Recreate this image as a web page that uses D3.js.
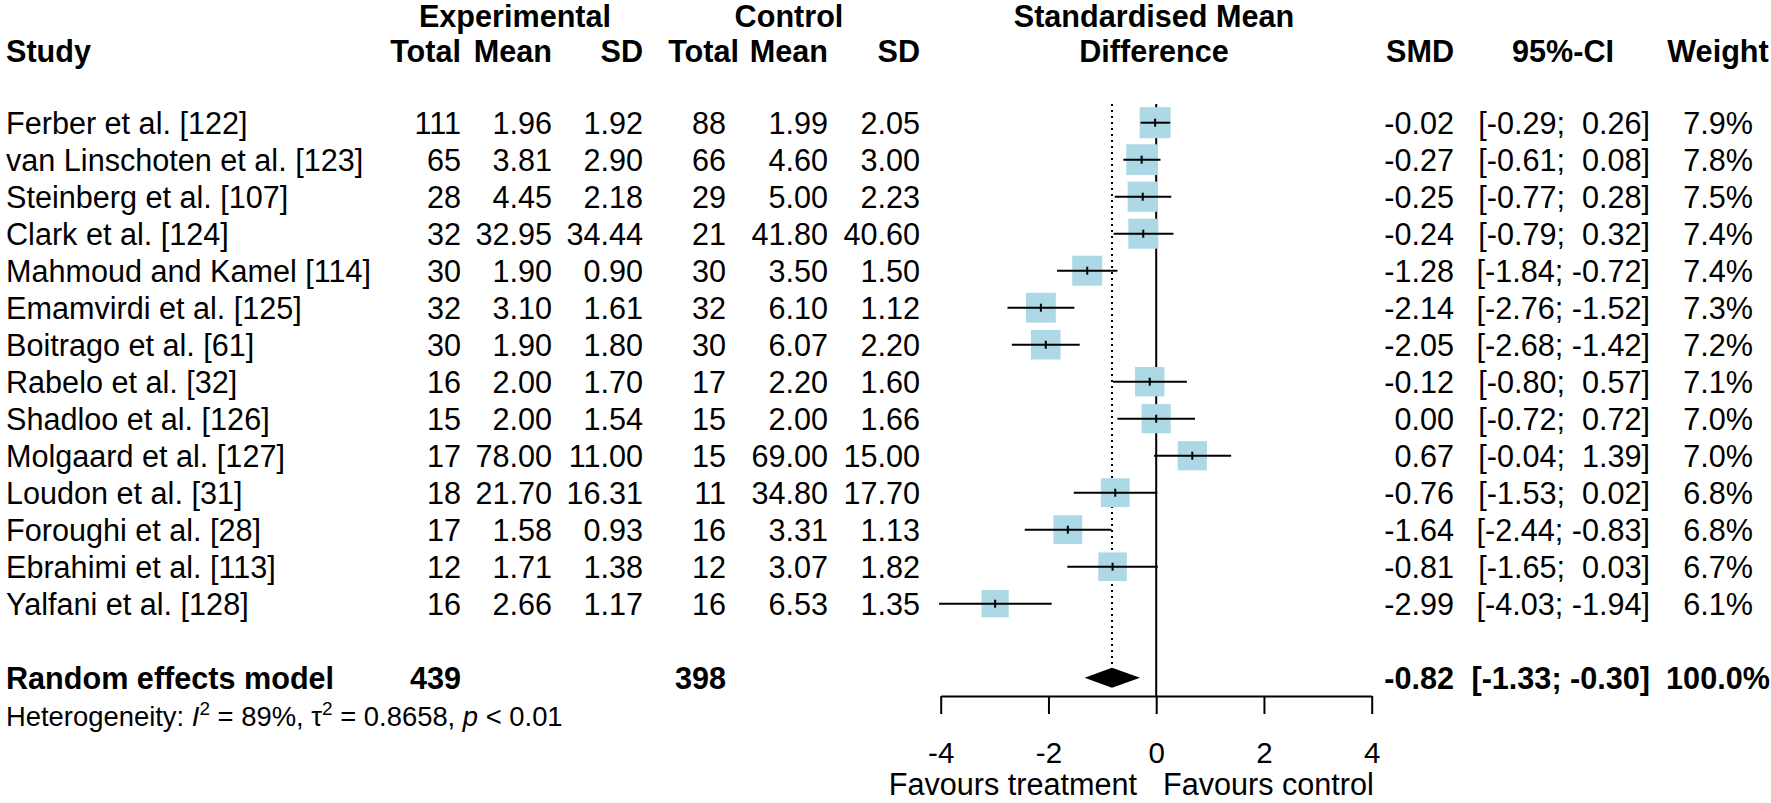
<!DOCTYPE html>
<html>
<head>
<meta charset="utf-8">
<script src="https://cdn.jsdelivr.net/npm/d3@7"></script>
<style>
  html, body { margin: 0; padding: 0; background: #fff; }
  svg { display: block; font-family: "Liberation Sans", Arial, sans-serif; }
  text { white-space: pre; fill: #000; }
</style>
</head>
<body>
<svg id="chart" width="1771" height="803"></svg>
<script>
// ---------- data ----------
const studies = ["Ferber et al. [122]", "van Linschoten et al. [123]", "Steinberg et al. [107]", "Clark et al. [124]",
  "Mahmoud and Kamel [114]", "Emamvirdi et al. [125]", "Boitrago et al. [61]", "Rabelo et al. [32]",
  "Shadloo et al. [126]", "Molgaard et al. [127]", "Loudon et al. [31]", "Foroughi et al. [28]",
  "Ebrahimi et al. [113]", "Yalfani et al. [128]"];
const expTotal = ["111", "65", "28", "32", "30", "32", "30", "16", "15", "17", "18", "17", "12", "16"];
const expMean = ["1.96", "3.81", "4.45", "32.95", "1.90", "3.10", "1.90", "2.00", "2.00", "78.00", "21.70", "1.58", "1.71", "2.66"];
const expSD = ["1.92", "2.90", "2.18", "34.44", "0.90", "1.61", "1.80", "1.70", "1.54", "11.00", "16.31", "0.93", "1.38", "1.17"];
const ctrlTotal = ["88", "66", "29", "21", "30", "32", "30", "17", "15", "15", "11", "16", "12", "16"];
const ctrlMean = ["1.99", "4.60", "5.00", "41.80", "3.50", "6.10", "6.07", "2.20", "2.00", "69.00", "34.80", "3.31", "3.07", "6.53"];
const ctrlSD = ["2.05", "3.00", "2.23", "40.60", "1.50", "1.12", "2.20", "1.60", "1.66", "15.00", "17.70", "1.13", "1.82", "1.35"];
const smd = [-0.02, -0.27, -0.25, -0.24, -1.28, -2.14, -2.05, -0.12, 0.00, 0.67, -0.76, -1.64, -0.81, -2.99];
const ciLower = [-0.29, -0.61, -0.77, -0.79, -1.84, -2.76, -2.68, -0.80, -0.72, -0.04, -1.53, -2.44, -1.65, -4.03];
const ciUpper = [0.26, 0.08, 0.28, 0.32, -0.72, -1.52, -1.42, 0.57, 0.72, 1.39, 0.02, -0.83, 0.03, -1.94];
const weights = [7.9, 7.8, 7.5, 7.4, 7.4, 7.3, 7.2, 7.1, 7.0, 7.0, 6.8, 6.8, 6.7, 6.1];
const summaryLabel = "Random effects model";
const summaryExpTotal = "439";
const summaryCtrlTotal = "398";
const summarySMD = -0.82;
const summaryLower = -1.33;
const summaryUpper = -0.30;
const summaryWeight = "100.0%";
const xTicks = [-4, -2, 0, 2, 4];
const xDomain = [-4, 4];

// ---------- helpers (plain hyphen-minus like the reference) ----------
const hy = s => s.replace(/\u2212/g, "-");
const fmt2 = v => hy(d3.format(".2f")(v));
const fmtCI = (lo, hi) => "[" + fmt2(lo) + ";" + (hi < 0 ? " " : "  ") + fmt2(hi) + "]";
const fmtW = w => d3.format(".1f")(w) + "%";

const svg = d3.select("#chart");
svg.append("rect").attr("width", 1771).attr("height", 803).attr("fill", "#fff");

const x = d3.scaleLinear().domain(xDomain).range([940.7, 1371.7]);
const y = d3.scaleLinear().domain([0, 1]).range([122.7, 159.7]);
const box = d3.scaleSqrt().domain([0, 7.9]).range([0, 31]);

const FS = 30.6;
const base = 10.9;

const cols = [
  {vals: expTotal, x: 461},
  {vals: expMean, x: 552},
  {vals: expSD, x: 643},
  {vals: ctrlTotal, x: 726},
  {vals: ctrlMean, x: 828},
  {vals: ctrlSD, x: 920},
];

// ---------- headers ----------
const hdr = svg.append("g").attr("font-weight", "bold").attr("font-size", FS);
hdr.append("text").attr("x", 6).attr("y", 62).text("Study");
hdr.append("text").attr("x", 515).attr("y", 27).attr("text-anchor", "middle").text("Experimental");
hdr.append("text").attr("x", 789).attr("y", 27).attr("text-anchor", "middle").text("Control");
const hdrLabels = ["Total", "Mean", "SD", "Total", "Mean", "SD"];
const hdrX = [461, 552, 643, 739, 828, 920];
hdrLabels.forEach((t, i) => hdr.append("text").attr("x", hdrX[i]).attr("y", 62).attr("text-anchor", "end").text(t));
hdr.append("text").attr("x", 1154).attr("y", 27).attr("text-anchor", "middle").text("Standardised Mean");
hdr.append("text").attr("x", 1154).attr("y", 62).attr("text-anchor", "middle").text("Difference");
hdr.append("text").attr("x", 1454).attr("y", 62).attr("text-anchor", "end").text("SMD");
hdr.append("text").attr("x", 1563).attr("y", 62).attr("text-anchor", "middle").text("95%-CI");
hdr.append("text").attr("x", 1718).attr("y", 62).attr("text-anchor", "middle").text("Weight");

// ---------- study rows text ----------
const rows = svg.append("g").attr("font-size", FS);
studies.forEach((s, i) => {
  const yy = y(i) + base;
  rows.append("text").attr("x", 6).attr("y", yy).text(s);
  cols.forEach(c => rows.append("text").attr("x", c.x).attr("y", yy).attr("text-anchor", "end").text(c.vals[i]));
  rows.append("text").attr("x", 1454).attr("y", yy).attr("text-anchor", "end").text(fmt2(smd[i]));
  rows.append("text").attr("x", 1650).attr("y", yy).attr("text-anchor", "end").text(fmtCI(ciLower[i], ciUpper[i]));
  rows.append("text").attr("x", 1718).attr("y", yy).attr("text-anchor", "middle").text(fmtW(weights[i]));
});

// summary row
const sIdx = 15;
const sg = svg.append("g").attr("font-size", FS).attr("font-weight", "bold");
sg.append("text").attr("x", 6).attr("y", y(sIdx) + base).text(summaryLabel);
sg.append("text").attr("x", 461).attr("y", y(sIdx) + base).attr("text-anchor", "end").text(summaryExpTotal);
sg.append("text").attr("x", 726).attr("y", y(sIdx) + base).attr("text-anchor", "end").text(summaryCtrlTotal);
sg.append("text").attr("x", 1454).attr("y", y(sIdx) + base).attr("text-anchor", "end").text(fmt2(summarySMD));
sg.append("text").attr("x", 1650).attr("y", y(sIdx) + base).attr("text-anchor", "end").text(fmtCI(summaryLower, summaryUpper));
sg.append("text").attr("x", 1718).attr("y", y(sIdx) + base).attr("text-anchor", "middle").text(summaryWeight);

// heterogeneity
const het = svg.append("text").attr("x", 6).attr("y", y(16) + 11).attr("font-size", 27.4);
het.append("tspan").text("Heterogeneity: ");
het.append("tspan").attr("font-style", "italic").text("I");
het.append("tspan").attr("font-size", 19).attr("dy", -11).text("2");
het.append("tspan").attr("dy", 11).text(" = 89%, τ");
het.append("tspan").attr("font-size", 19).attr("dy", -11).text("2");
het.append("tspan").attr("dy", 11).text(" = 0.8658, ");
het.append("tspan").attr("font-style", "italic").text("p");
het.append("tspan").text(" < 0.01");

// ---------- plot ----------
const plot = svg.append("g");
const topY = 104;
const axisY = 696;

plot.append("line").attr("x1", x(0)).attr("x2", x(0)).attr("y1", topY).attr("y2", axisY)
  .attr("stroke", "#000").attr("stroke-width", 2);
plot.append("line").attr("x1", x(summarySMD)).attr("x2", x(summarySMD)).attr("y1", topY).attr("y2", y(sIdx) - 10)
  .attr("stroke", "#000").attr("stroke-width", 2).attr("stroke-dasharray", "2,4");

studies.forEach((s, i) => {
  const cy = y(i), cx = x(smd[i]), b = box(weights[i]);
  plot.append("rect").attr("x", cx - b / 2).attr("y", cy - b / 2).attr("width", b).attr("height", b)
    .attr("fill", "#ADD8E6");
  plot.append("line").attr("x1", x(ciLower[i])).attr("x2", x(ciUpper[i])).attr("y1", cy).attr("y2", cy)
    .attr("stroke", "#000").attr("stroke-width", 2);
  plot.append("line").attr("x1", cx).attr("x2", cx).attr("y1", cy - 4).attr("y2", cy + 4)
    .attr("stroke", "#000").attr("stroke-width", 2);
});

const dy0 = y(sIdx);
plot.append("path")
  .attr("d", `M${x(summaryLower)},${dy0} L${x(summarySMD)},${dy0 - 10} L${x(summaryUpper)},${dy0} L${x(summarySMD)},${dy0 + 10} Z`)
  .attr("fill", "#000");

// axis
const axis = svg.append("g").attr("transform", `translate(0,${axisY})`)
  .call(d3.axisBottom(x).tickValues(xTicks).tickFormat(d => hy(d3.format("d")(d))).tickSize(18).tickSizeOuter(0));
axis.selectAll("path, line").attr("stroke", "#000").attr("stroke-width", 2);
axis.attr("font-size", 29.5).attr("font-family", "Liberation Sans, Arial, sans-serif");
axis.selectAll("text").attr("dy", 0).attr("y", 67).attr("fill", "#000");

svg.append("text").attr("x", 1137).attr("y", 795).attr("font-size", FS).attr("text-anchor", "end").text("Favours treatment");
svg.append("text").attr("x", 1163).attr("y", 795).attr("font-size", FS).text("Favours control");
</script>
</body>
</html>
